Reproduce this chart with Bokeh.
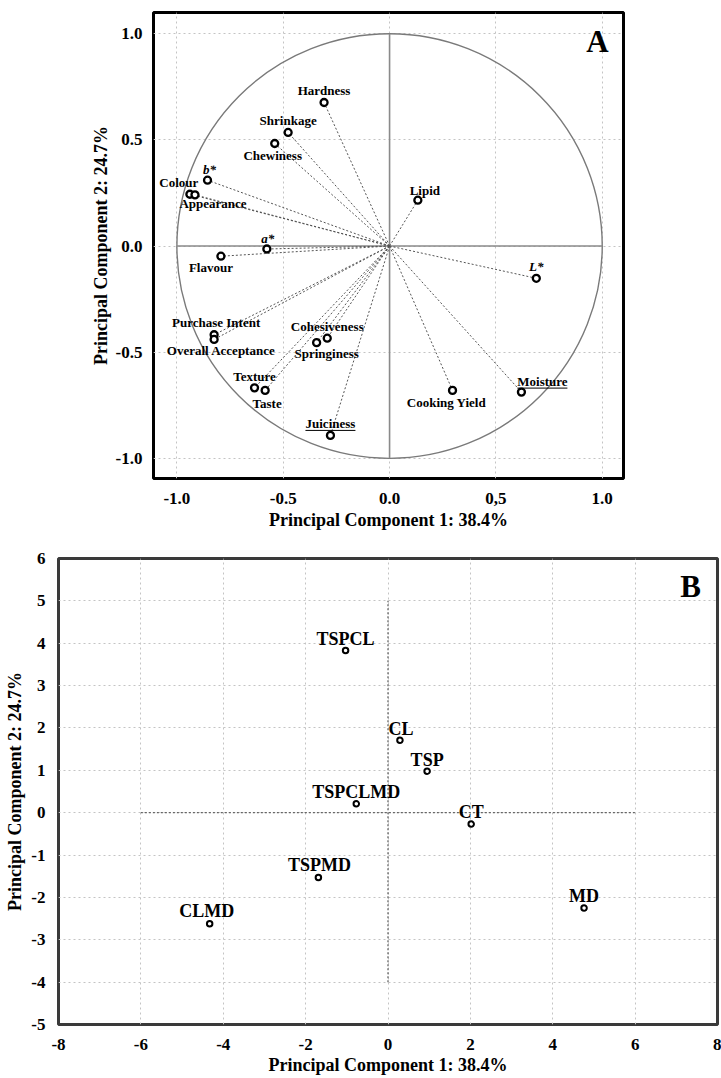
from bokeh.plotting import figure
from bokeh.models import ColumnDataSource, FixedTicker, Label
from bokeh.layouts import column
from bokeh.core.properties import value
from bokeh.embed import file_html
from bokeh.resources import INLINE

# ---------------- Data ----------------
# Panel A: variable loadings
a_vars = ["Hardness", "Shrinkage", "Chewiness", "b*", "Colour", "Appearance", "a*",
          "Lipid", "Flavour", "L*", "Purchase Intent", "Overall Acceptance",
          "Cohesiveness", "Springiness", "Texture", "Taste", "Juiciness",
          "Cooking Yield", "Moisture"]
a_pc1 = [-0.308, -0.477, -0.540, -0.856, -0.939, -0.915, -0.577,
         0.133, -0.793, 0.690, -0.825, -0.825,
         -0.293, -0.343, -0.635, -0.585, -0.278,
         0.296, 0.620]
a_pc2 = [0.676, 0.535, 0.483, 0.310, 0.244, 0.241, -0.014,
         0.216, -0.048, -0.152, -0.418, -0.440,
         -0.434, -0.455, -0.668, -0.680, -0.892,
         -0.680, -0.688]
a_italic = ["a*", "b*", "L*"]
a_underlined = ["Juiciness", "Moisture"]
a_xticks = [-1.0, -0.5, 0.0, 0.5, 1.0]
a_xlabels = ["-1.0", "-0.5", "0.0", "0,5", "1.0"]
a_yticks = [-1.0, -0.5, 0.0, 0.5, 1.0]
a_ylabels = ["-1.0", "-0.5", "0.0", "0.5", "1.0"]

# Panel B: sample scores
b_samples = ["TSPCL", "CL", "TSP", "TSPCLMD", "CT", "TSPMD", "CLMD", "MD"]
b_pc1 = [-1.03, 0.29, 0.95, -0.77, 2.02, -1.69, -4.33, 4.76]
b_pc2 = [3.83, 1.71, 0.98, 0.21, -0.27, -1.53, -2.62, -2.25]
b_xticks = [-8, -6, -4, -2, 0, 2, 4, 6, 8]
b_xlabels = ["-8", "-6", "-4", "-2", "0", "2", "4", "6", "8"]
b_yticks = [-5, -4, -3, -2, -1, 0, 1, 2, 3, 4, 5, 6]
b_ylabels = ["-5", "-4", "-3", "-2", "-1", "0", "1", "2", "3", "4", "5", "6"]

x_title = "Principal Component 1: 38.4%"
y_title = "Principal Component 2: 24.7%"

# ---------------- Styling / layout ----------------
SERIF = "Liberation Serif"
# label offsets in screen pixels (dx right, dy down)
offA = {"Hardness": (0, -12), "Shrinkage": (0, -12), "Chewiness": (-2, 12),
        "b*": (2, -11), "Colour": (-11, -12), "Appearance": (18, 9), "a*": (1, -11),
        "Lipid": (7, -10), "Flavour": (-10, 11), "L*": (0, -12),
        "Purchase Intent": (2, -12), "Overall Acceptance": (7, 11),
        "Cohesiveness": (0, -12), "Springiness": (10, 11), "Texture": (0, -11),
        "Taste": (2, 13), "Juiciness": (0, -12), "Cooking Yield": (-6, 12),
        "Moisture": (21, -11)}
offB = {"TSPCL": (0, -11), "CL": (1, -11), "TSP": (0, -11), "TSPCLMD": (0, -12),
        "CT": (0, -12), "TSPMD": (1, -12), "CLMD": (-3, -13), "MD": (0, -12)}

xA = (-1.11, 1.10)
yA = (-1.095, 1.10)
A_W, A_H = 650, 532
A_L, A_R, A_T, A_B = 153, 27, 12, 53


def style(p, xt, yt, tick_size, title_size, xstand, ystand, xlab_stand, ylab_stand):
    p.background_fill_color = "white"
    p.border_fill_color = "white"
    p.xaxis.ticker = FixedTicker(ticks=xt)
    p.yaxis.ticker = FixedTicker(ticks=yt)
    for ax in (p.xaxis[0], p.yaxis[0]):
        ax.axis_line_color = None
        ax.major_tick_line_color = None
        ax.minor_tick_line_color = None
        ax.major_label_text_font = SERIF
        ax.major_label_text_font_style = "bold"
        ax.major_label_text_font_size = tick_size
        ax.major_label_text_color = "black"
        ax.axis_label_text_font = SERIF
        ax.axis_label_text_font_style = "bold"
        ax.axis_label_text_font_size = title_size
        ax.axis_label_text_color = "black"
    p.xaxis[0].major_label_standoff = xstand
    p.yaxis[0].major_label_standoff = ystand
    p.xaxis[0].axis_label_standoff = xlab_stand
    p.yaxis[0].axis_label_standoff = ylab_stand
    p.xaxis.axis_label = x_title
    p.yaxis.axis_label = y_title
    p.xgrid.ticker = FixedTicker(ticks=xt)
    p.ygrid.ticker = FixedTicker(ticks=yt)
    for g in (p.xgrid[0], p.ygrid[0]):
        g.grid_line_color = "#c4c4c4"
        g.grid_line_dash = "2 3"
        g.grid_line_width = 1


# ---------------- Panel A ----------------
pA = figure(width=A_W, height=A_H, x_range=xA, y_range=yA,
            output_backend="svg", toolbar_location=None,
            min_border_left=A_L, min_border_right=A_R,
            min_border_top=A_T, min_border_bottom=A_B)
pA.frame_align = False
style(pA, a_xticks, a_yticks, "17px", "18px", 8, 5, 3, 2)
pA.xaxis[0].major_label_overrides = dict(zip(a_xticks, a_xlabels))
pA.yaxis[0].major_label_overrides = dict(zip(a_yticks, a_ylabels))
pA.outline_line_color = "black"
pA.outline_line_width = 3

r = 1.0  # correlation circle radius
pA.ellipse(x=[0], y=[0], width=[2 * r], height=[2 * r], fill_color=None,
           line_color="#7a7a7a", line_width=1.4)
pA.segment(x0=[-r, 0], y0=[0, -r], x1=[r, 0], y1=[0, r],
           line_color="#8a8a8a", line_width=1.6)

srcA = ColumnDataSource(dict(
    x=a_pc1, y=a_pc2, zero=[0] * len(a_pc1), name=a_vars,
    dx=[offA[n][0] for n in a_vars], dy=[offA[n][1] for n in a_vars],
    style=["bold italic" if n in a_italic else "bold" for n in a_vars]))
pA.segment(x0="zero", y0="zero", x1="x", y1="y", source=srcA,
           line_color="#555555", line_width=1, line_dash="2 2")
pA.scatter(x="x", y="y", source=srcA, marker="circle", size=7,
           fill_color="white", line_color="black", line_width=2.3)
pA.text(x="x", y="y", text="name", x_offset="dx", y_offset="dy", source=srcA,
        text_align="center", text_baseline="middle",
        text_font=value(SERIF), text_font_style="style",
        text_font_size="13px", text_color="black")

# underlines
sx = (A_W - A_L - A_R) / (xA[1] - xA[0])
sy = (A_H - A_T - A_B) / (yA[1] - yA[0])
ux0, ux1, uy = [], [], []
for n in a_underlined:
    i = a_vars.index(n)
    dx, dy = offA[n]
    half = 25
    ux0.append(a_pc1[i] + (dx - half) / sx)
    ux1.append(a_pc1[i] + (dx + half) / sx)
    uy.append(a_pc2[i] - (dy + 7) / sy)
pA.segment(x0=ux0, y0=uy, x1=ux1, y1=uy, line_color="black", line_width=1)

pA.add_layout(Label(x=444, y=437, x_units="screen", y_units="screen", text="A",
                    text_font=SERIF, text_font_style="bold", text_font_size="31px",
                    text_align="center", text_baseline="middle", text_color="black"))

# ---------------- Panel B ----------------
B_W, B_H = 721, 545
B_L, B_R, B_T, B_B = 58, 4, 26, 51
pB = figure(width=B_W, height=B_H, x_range=(b_xticks[0], b_xticks[-1]),
            y_range=(b_yticks[0], b_yticks[-1]),
            output_backend="svg", toolbar_location=None,
            min_border_left=B_L, min_border_right=B_R,
            min_border_top=B_T, min_border_bottom=B_B)
pB.frame_align = False
style(pB, b_xticks, b_yticks, "17px", "18px", 8, 7, 2, 3)
pB.xaxis[0].major_label_overrides = dict(zip(b_xticks, b_xlabels))
pB.yaxis[0].major_label_overrides = dict(zip(b_yticks, b_ylabels))
pB.outline_line_color = "#3a3a3a"
pB.outline_line_width = 3

# zero reference lines (dotted, darker)
pB.segment(x0=[b_xticks[1], 0], y0=[0, b_yticks[1]],
           x1=[b_xticks[-2], 0], y1=[0, b_yticks[-2]],
           line_color="#666666", line_width=1.3, line_dash="2 2")

srcB = ColumnDataSource(dict(
    x=b_pc1, y=b_pc2, name=b_samples,
    dx=[offB[n][0] for n in b_samples], dy=[offB[n][1] for n in b_samples]))
pB.scatter(x="x", y="y", source=srcB, marker="circle", size=5.5,
           fill_color="white", line_color="black", line_width=2)
pB.text(x="x", y="y", text="name", x_offset="dx", y_offset="dy", source=srcB,
        text_align="center", text_baseline="middle",
        text_font=value(SERIF), text_font_style="bold",
        text_font_size="18px", text_color="black")

pB.add_layout(Label(x=632, y=B_H - B_T - B_B - 30, x_units="screen", y_units="screen",
                    text="B", text_font=SERIF, text_font_style="bold",
                    text_font_size="31px", text_align="center",
                    text_baseline="middle", text_color="black"))

layout = column(pA, pB)
open("out.html", "w").write(file_html(layout, INLINE))
